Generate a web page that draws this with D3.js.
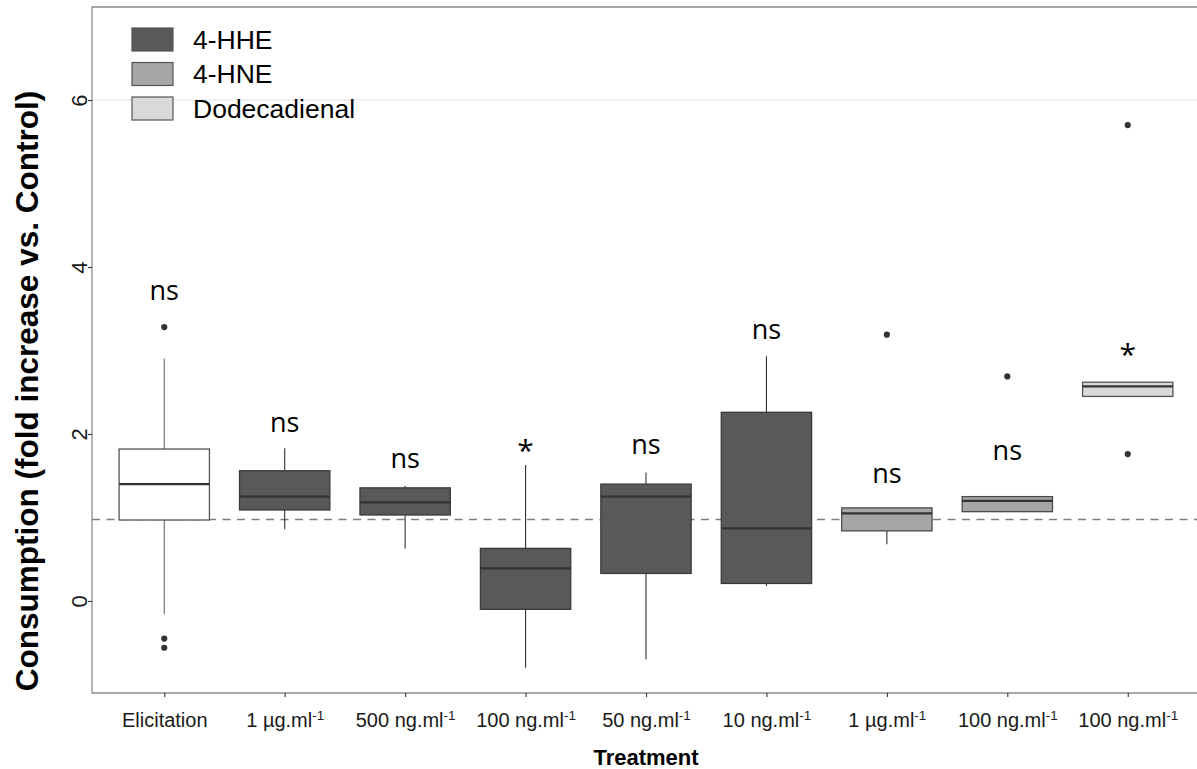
<!DOCTYPE html>
<html>
<head>
<meta charset="utf-8">
<script src="https://cdn.jsdelivr.net/npm/d3@7"></script>
<style>
  html, body { margin: 0; padding: 0; background: #ffffff; }
  svg { display: block; }
</style>
</head>
<body>
<svg id="chart" width="1197" height="769"></svg>
<script>
// ---------- data ----------
const categories = ["elic", "hhe1ug", "hhe500", "hhe100", "hhe50", "hhe10", "hne1ug", "hne100", "dod100"];
const tickMain   = ["Elicitation", "1 µg.ml", "500 ng.ml", "100 ng.ml", "50 ng.ml", "10 ng.ml", "1 µg.ml", "100 ng.ml", "100 ng.ml"];
const tickSup    = ["", "-1", "-1", "-1", "-1", "-1", "-1", "-1", "-1"];
const groups     = ["Control", "4-HHE", "4-HHE", "4-HHE", "4-HHE", "4-HHE", "4-HNE", "4-HNE", "Dodecadienal"];
const whiskerLow  = [-0.16, 0.86, 0.63, -0.80, -0.70, 0.18, 0.68, 1.07, 2.45];
const q1          = [0.97, 1.09, 1.03, -0.10, 0.33, 0.21, 0.84, 1.07, 2.45];
const medians     = [1.40, 1.25, 1.18, 0.39, 1.25, 0.87, 1.05, 1.20, 2.57];
const q3          = [1.82, 1.56, 1.355, 0.63, 1.40, 2.26, 1.115, 1.25, 2.62];
const whiskerHigh = [2.90, 1.83, 1.38, 1.63, 1.54, 2.93, 1.12, 1.25, 2.62];
const outliers    = [[3.28, -0.45, -0.56], [], [], [], [], [], [3.19], [2.69], [5.70, 1.76]];
const signif      = ["ns", "ns", "ns", "*", "ns", "ns", "ns", "ns", "*"];
const signifY     = [3.70, 2.11, 1.68, 1.87, 1.85, 3.23, 1.50, 1.78, 3.02];
const yTicks      = [0, 2, 4, 6];
const gridValues  = [6];
const refValue    = 1;
const legendNames = ["4-HHE", "4-HNE", "Dodecadienal"];

// ---------- styles ----------
const fillColor = {"Control": "#ffffff", "4-HHE": "#595959", "4-HNE": "#a6a6a6", "Dodecadienal": "#d9d9d9"};
const strokeColor = {"Control": "#555555", "4-HHE": "#3a3a3a", "4-HNE": "#4a4a4a", "Dodecadienal": "#555555"};

const svg = d3.select("#chart");
const pL = 92, pR = 1200, pT = 7, pB = 693;

const x = d3.scalePoint().domain(categories).range([pL, pR]).padding(0.6);
const step = x.step();
const boxW = step * 0.75;
const y = d3.scaleLinear().domain([-1.102, 7.114]).range([pB, pT]);

// grid
svg.append("g").selectAll("line").data(gridValues).join("line")
  .attr("x1", pL).attr("x2", pR)
  .attr("y1", d => y(d)).attr("y2", d => y(d))
  .attr("stroke", "#ebebeb").attr("stroke-width", 1.5);

// reference dashed line
svg.append("line")
  .attr("x1", pL).attr("x2", pR)
  .attr("y1", y(refValue) + 2).attr("y2", y(refValue) + 2)
  .attr("stroke", "#7f7f7f").attr("stroke-width", 1.6)
  .attr("stroke-dasharray", "8,6.5");

// boxes
const idx = d3.range(categories.length);
const gBox = svg.append("g");
idx.forEach(i => {
  const cx = x(categories[i]);
  const g = groups[i];
  const wcol = g === "Control" ? "#666666" : "#333333";
  gBox.append("line").attr("x1", cx).attr("x2", cx)
    .attr("y1", y(q3[i])).attr("y2", y(whiskerHigh[i]))
    .attr("stroke", wcol).attr("stroke-width", 1.1);
  gBox.append("line").attr("x1", cx).attr("x2", cx)
    .attr("y1", y(q1[i])).attr("y2", y(whiskerLow[i]))
    .attr("stroke", wcol).attr("stroke-width", 1.1);
  gBox.append("rect")
    .attr("x", cx - boxW / 2).attr("width", boxW)
    .attr("y", y(q3[i])).attr("height", Math.max(y(q1[i]) - y(q3[i]), 1))
    .attr("fill", fillColor[g]).attr("stroke", strokeColor[g]).attr("stroke-width", 1.3);
  gBox.append("line")
    .attr("x1", cx - boxW / 2).attr("x2", cx + boxW / 2)
    .attr("y1", y(medians[i])).attr("y2", y(medians[i]))
    .attr("stroke", "#333333").attr("stroke-width", 2.2);
  gBox.selectAll(null).data(outliers[i]).join("circle")
    .attr("cx", cx).attr("cy", d => y(d)).attr("r", 3.1)
    .attr("fill", "#333333");
  const isStar = signif[i] === "*";
  gBox.append("text")
    .attr("x", cx).attr("y", y(signifY[i]) + (isStar ? 16 : 7.5))
    .attr("text-anchor", "middle")
    .attr("font-family", "'Open Sans', 'Noto Sans', sans-serif")
    .attr("font-size", isStar ? 30 : 27)
    .attr("fill", "#000")
    .text(signif[i]);
});

// panel border (left, top, bottom)
svg.append("path")
  .attr("d", `M${pR},${pT}H${pL}V${pB}H${pR}`)
  .attr("fill", "none").attr("stroke", "#8c8c8c").attr("stroke-width", 1.3);

// y axis
const yAxis = d3.axisLeft(y).tickValues(yTicks).tickSize(4).tickPadding(4).tickFormat(d3.format("d"));
const gy = svg.append("g").attr("transform", `translate(${pL},0)`).call(yAxis);
gy.select(".domain").remove();
gy.selectAll(".tick line").attr("stroke", "#333").attr("stroke-width", 1.1);
gy.selectAll(".tick text")
  .attr("font-family", "'Liberation Sans', Arial, sans-serif")
  .attr("font-size", 22).attr("fill", "#1a1a1a")
  .attr("transform", "rotate(-90)")
  .attr("x", 0).attr("y", -5.5).attr("dy", 0)
  .attr("text-anchor", "middle");

// x axis
const xAxis = d3.axisBottom(x).tickSize(4).tickPadding(6).tickFormat(() => "");
const gx = svg.append("g").attr("transform", `translate(0,${pB})`).call(xAxis);
gx.select(".domain").remove();
gx.selectAll(".tick line").attr("stroke", "#333").attr("stroke-width", 1.1);
gx.selectAll(".tick text").remove();
gx.selectAll(".tick").each(function(d) {
  const i = categories.indexOf(d);
  const t = d3.select(this).append("text")
    .attr("y", 34).attr("text-anchor", "middle")
    .attr("font-family", "'Liberation Sans', Arial, sans-serif")
    .attr("font-size", 20).attr("fill", "#1a1a1a");
  t.append("tspan").text(tickMain[i]);
  if (tickSup[i]) {
    t.append("tspan").attr("font-size", 13.5).attr("dy", -7).text(tickSup[i]);
  }
});

// axis titles
svg.append("text")
  .attr("transform", `translate(38,391) rotate(-90)`)
  .attr("text-anchor", "middle")
  .attr("font-family", "'Liberation Sans', Arial, sans-serif")
  .attr("font-weight", "bold").attr("font-size", 31.5).attr("fill", "#000")
  .text("Consumption (fold increase vs. Control)");

svg.append("text")
  .attr("x", (pL + pR) / 2).attr("y", 765)
  .attr("text-anchor", "middle")
  .attr("font-family", "'Liberation Sans', Arial, sans-serif")
  .attr("font-weight", "bold").attr("font-size", 22).attr("fill", "#000")
  .text("Treatment");

// legend
const lg = svg.append("g");
legendNames.forEach((name, i) => {
  const ly = 28 + i * 34.5;
  lg.append("rect").attr("x", 132).attr("y", ly).attr("width", 41).attr("height", 23)
    .attr("fill", fillColor[name]).attr("stroke", "#555555").attr("stroke-width", 1.2);
  lg.append("text").attr("x", 193).attr("y", ly + 20.5)
    .attr("font-family", "'Liberation Sans', Arial, sans-serif")
    .attr("font-size", 26.5).attr("fill", "#000")
    .text(name);
});
</script>
</body>
</html>
